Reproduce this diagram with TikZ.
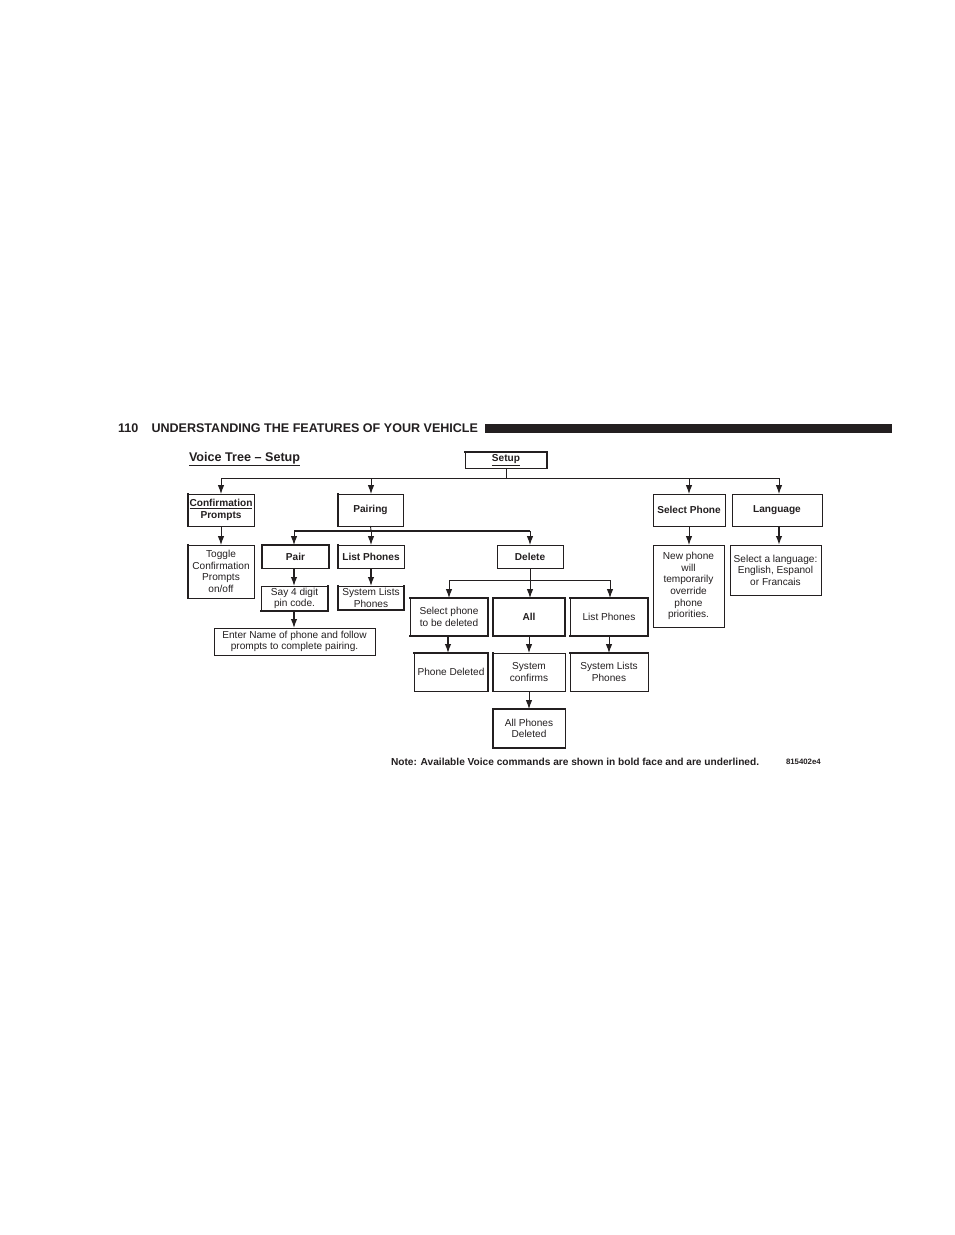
\documentclass[tikz,border=0pt]{standalone}
\usepackage{fontspec}
\setmainfont{Liberation Sans}
\usetikzlibrary{arrows.meta}
\definecolor{ink}{HTML}{231F20}
\tikzset{
  boxnode/.style={draw=ink,line width=0.7pt,inner sep=0pt,outer sep=0pt,align=center,text=ink,
    font=\fontsize{10.1}{11.6}\selectfont},
  cmd/.style={font=\fontsize{10.1}{11.6}\selectfont\bfseries},
  heavy/.style={draw=ink,line width=1.5pt,line cap=rect},
  conn/.style={draw=ink,line width=0.9pt},
  arrow/.style={conn,-{Latex[length=9pt,width=6.5pt]}},
  busheavy/.style={draw=ink,line width=1.8pt},
  label/.style={inner sep=0pt,outer sep=0pt,anchor=base west,text=ink}
}
% name, x1, y1, x2, y2, extra style, text
\newcommand{\pbox}[7]{%
  \pgfmathsetmacro{\bw}{#4-#2}\pgfmathsetmacro{\bh}{#5-#3}%
  \pgfmathsetmacro{\bx}{(#4+#2)/2}\pgfmathsetmacro{\by}{(#5+#3)/2}%
  \node[boxnode,minimum width=\bw pt,minimum height=\bh pt,#6] (#1) at (\bx,\by) {#7};}
\begin{document}
\begin{tikzpicture}[x=1pt,y=-1pt]
\useasboundingbox[fill=white] (0,0) rectangle (954,1235);

% header
\node[label,font=\fontsize{12.55}{14}\selectfont\bfseries] (pageno) at (118,432) {110};
\node[label,font=\fontsize{12.55}{14}\selectfont\bfseries] (headline) at (151.5,432) {UNDERSTANDING THE FEATURES OF YOUR VEHICLE};
\fill[ink] (485,424) rectangle (892,433);

% title and notes
\node[label,font=\fontsize{12.6}{14}\selectfont\bfseries] (title) at (189,461) {\underline{Voice Tree – Setup}};
\node[label,font=\fontsize{10.15}{11}\selectfont\bfseries] (note) at (391,765) {Note: Available Voice commands are shown in bold face and are underlined.};
\node[label,font=\fontsize{7.8}{8}\selectfont\bfseries] (code) at (786,764) {815402e4};

% boxes
\pbox{setup}{465}{452}{547}{468}{cmd}{\underline{Setup}}
\pbox{confirm}{188}{494}{254}{526}{cmd}{\underline{Confirmation}\\Prompts}
\pbox{toggle}{188}{545}{254}{598}{}{Toggle\\Confirmation\\Prompts\\on/off}
\pbox{pairing}{338}{494}{403}{526}{cmd}{Pairing}
\pbox{pair}{262}{545}{329}{568}{cmd}{Pair}
\pbox{listphones}{338}{545}{404}{568}{cmd}{List Phones}
\pbox{say}{261}{586}{328}{611}{}{Say 4 digit\\pin code.}
\pbox{syslists}{338}{586}{404}{610}{}{System Lists\\Phones}
\pbox{entername}{214}{628}{375}{655}{}{Enter Name of phone and follow\\prompts to complete pairing.}
\pbox{delete}{497}{545}{563}{568}{cmd}{Delete}
\pbox{selectdel}{410}{598}{488}{636}{}{Select phone\\to be deleted}
\pbox{all}{493}{598}{565}{636}{cmd}{All}
\pbox{listtwo}{570}{598}{648}{636}{}{List Phones}
\pbox{phonedel}{414}{653}{488}{691}{}{Phone Deleted}
\pbox{sysconf}{493}{653}{565}{691}{}{System\\confirms}
\pbox{syslisttwo}{570}{653}{648}{691}{}{System Lists\\Phones}
\pbox{alldel}{493}{709}{565}{748}{}{All Phones\\Deleted}
\pbox{selphone}{653}{494}{725}{526}{cmd}{Select Phone}
\pbox{language}{732}{494}{822}{526}{cmd}{Language}
\pbox{newphone}{653}{545}{724}{627}{}{New phone\\will\\temporarily\\override\\phone\\priorities.}
\pbox{sellang}{730}{545}{821}{595}{}{Select a language:\\English, Espanol\\or Francais}

% heavier box edges
\draw[heavy] (setup.north west) -- (setup.north east) -- (setup.south east);
\draw[heavy] (confirm.north west) -- (confirm.south west);
\draw[heavy] (toggle.south west) -- (toggle.north west);
\draw[heavy] (pairing.north west) -- (pairing.south west);
\draw[heavy] (pair.south west) -- (pair.north west) -- (pair.north east) -- (pair.south east);
\draw[heavy] (listphones.north west) -- (listphones.south west);
\draw[heavy] (say.south west) -- (say.south east) -- (say.north east);
\draw[heavy] (syslists.south west) -- (syslists.south east) -- (syslists.north east);
\draw[heavy] (syslists.north west) -- (syslists.south west);
\draw[heavy] (selectdel.north west) -- (selectdel.north east) -- (selectdel.south east) -- (selectdel.south west);
\draw[heavy] (all.south east) -- (all.south west) -- (all.north west) -- (all.north east) -- (all.south east);
\draw[heavy] (listtwo.north west) -- (listtwo.north east) -- (listtwo.south east) -- (listtwo.south west);
\draw[heavy] (phonedel.north west) -- (phonedel.north east) -- (phonedel.south east);
\draw[heavy] (sysconf.north west) -- (sysconf.south west);
\draw[heavy] (alldel.south east) -- (alldel.south west) -- (alldel.north west) -- (alldel.north east);
\draw[heavy] (syslisttwo.north west) -- (syslisttwo.north east);

% main bus
\coordinate (busmain) at (506,478);
\coordinate (busleft) at (221,478);
\coordinate (busright) at (779,478);
\coordinate (buspair) at (371,478);
\coordinate (bussel) at (689,478);
\draw[conn] (setup.south -| busmain) -- (busmain);
\draw[arrow] (busmain) -- (busleft) -- (busleft |- confirm.north);
\draw[arrow] (busmain) -- (busright) -- (busright |- language.north);
\draw[arrow] (buspair) -- (buspair |- pairing.north);
\draw[arrow] (bussel) -- (bussel |- selphone.north);

% confirmation, select phone, language
\draw[arrow] (confirm.south) -- (toggle.north);
\draw[arrow] (selphone.south) -- (selphone.south |- newphone.north);
\draw[arrow,line width=1.5pt] (busright |- language.south) -- (busright |- sellang.north);

% pairing bus
\coordinate (pbus) at (371,531);
\coordinate (pbusl) at (294,531);
\coordinate (pbusr) at (530,531);
\draw[conn] (pairing.south) -- (pbus);
\draw[busheavy] (pbusl) -- (pbusr);
\draw[arrow] (pbusl) -- (pbusl |- pair.north);
\draw[arrow] (pbus) -- (pbus |- listphones.north);
\draw[arrow] (pbusr) -- (pbusr |- delete.north);
\draw[arrow,line width=1.3pt] (pair.south -| pbusl) -- (pbusl |- say.north);
\draw[arrow,line width=1.3pt] (pbus |- listphones.south) -- (pbus |- syslists.north);
\draw[arrow,line width=1.3pt] (pbusl |- say.south) -- (pbusl |- entername.north);

% delete bus
\coordinate (dbus) at (530,580);
\coordinate (dbusl) at (449,580);
\coordinate (dbusr) at (610,580);
\draw[conn] (delete.south -| dbus) -- (dbus);
\draw[arrow] (dbus) -- (dbusl) -- (dbusl |- selectdel.north);
\draw[arrow] (dbus) -- (dbusr) -- (dbusr |- listtwo.north);
\draw[arrow] (dbus) -- (dbus |- all.north);

% delete children
\coordinate (colsel) at (448,600);
\coordinate (colall) at (529,600);
\coordinate (collist) at (609,600);
\draw[arrow,line width=1.3pt] (colsel |- selectdel.south) -- (colsel |- phonedel.north);
\draw[arrow] (colall |- all.south) -- (colall |- sysconf.north);
\draw[arrow] (collist |- listtwo.south) -- (collist |- syslisttwo.north);
\draw[arrow] (colall |- sysconf.south) -- (colall |- alldel.north);
\end{tikzpicture}
\end{document}
